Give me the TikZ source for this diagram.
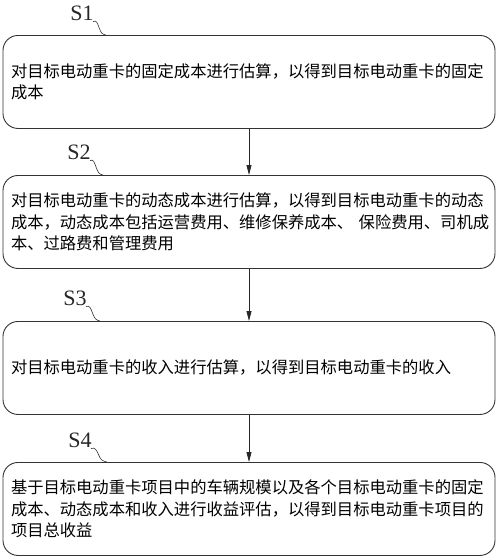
\documentclass[tikz,border=0pt]{standalone}
\usepackage{fontspec}
\setmainfont{Liberation Serif}
\newfontfamily\cjk{Noto Sans CJK SC}
\usetikzlibrary{arrows.meta,calc}
\tikzset{
  stepbox/.style={draw=black!80, line width=0.9pt, rounded corners=15pt,
    minimum width=492pt, minimum height=93pt, text width=476pt, inner xsep=8pt,
    align=left, font=\cjk\fontsize{16.3}{21.7}\selectfont, anchor=north},
  steplabel/.style={font=\fontsize{22}{22}\selectfont, inner sep=0pt, text=black!85},
  flow/.style={draw=black!85, line width=0.8pt, -{Triangle[length=10pt,width=5pt]}},
  squig/.style={draw=black!80, line width=0.6pt}
}
\begin{document}
\begin{tikzpicture}[x=1pt,y=-1pt]
\useasboundingbox (0,0) rectangle (500,558);
\node[stepbox] (b1) at (249,35) {对目标电动重卡的固定成本进行估算，以得到目标电动重卡的固定\\成本};
\node[stepbox] (b2) at (249,175) {对目标电动重卡的动态成本进行估算，以得到目标电动重卡的动态\\\mbox{成本，动态成本包括运营费用、维修保养成本、 保险费用、司机成}\\本、过路费和管理费用};
\node[stepbox] (b3) at (249,321) {对目标电动重卡的收入进行估算，以得到目标电动重卡的收入};
\node[stepbox] (b4) at (249,462) {基于目标电动重卡项目中的车辆规模以及各个目标电动重卡的固定\\成本、动态成本和收入进行收益评估，以得到目标电动重卡项目的\\项目总收益};

\node[steplabel] (l1) at (82,13) {S1};
\node[steplabel] (l2) at (79,152) {S2};
\node[steplabel] (l3) at (75,298) {S3};
\node[steplabel] (l4) at (80,440) {S4};

\foreach \l/\b/\dx in {l1/b1/12, l2/b2/12, l3/b3/13, l4/b4/15}{
  \coordinate (\l s) at ([xshift=-1pt,yshift=-1pt]\l.south east);
  \coordinate (\l e) at ([xshift=\dx pt]\l.south east |- \b.north);
  \draw[squig] (\l s) .. controls +(4,-2) and +(-2,-5) .. ($(\l s)!0.5!(\l e)$)
     .. controls +(2,5) and +(-4,-1) .. (\l e);
}

\draw[flow] (b1.south) -- (b2.north);
\draw[flow] (b2.south) -- (b3.north);
\draw[flow] (b3.south) -- (b4.north);
\end{tikzpicture}
\end{document}
